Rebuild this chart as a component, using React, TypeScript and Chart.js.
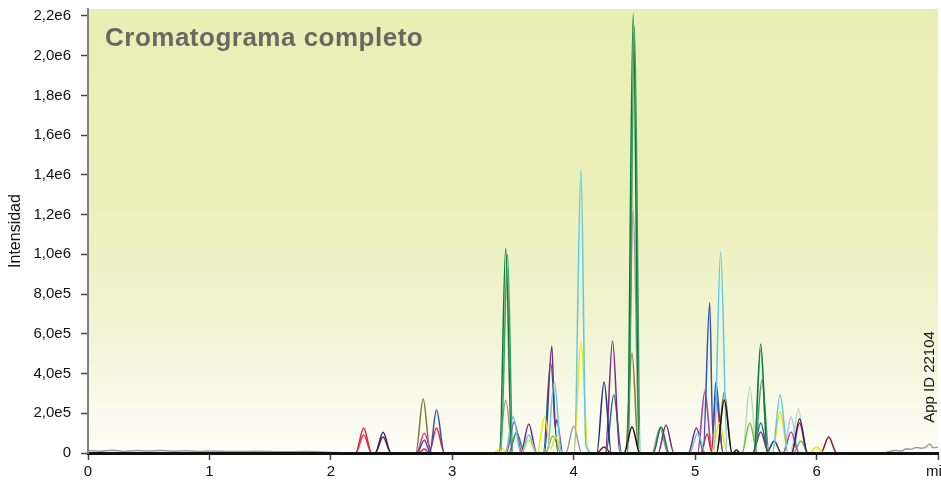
import React, { useEffect, useRef } from 'react';
import { Chart, registerables } from 'chart.js';

Chart.register(...registerables);

const FONT = "'Liberation Sans', Arial, Helvetica, sans-serif";
const TITLE = 'Cromatograma completo';
const Y_TITLE = 'Intensidad';
const WATERMARK = 'App ID 22104';

const X_MIN = 0;
const X_MAX = 7;
const Y_MIN = 0;
const Y_MAX = 2235000;
const X_TICKS = [0, 1, 2, 3, 4, 5, 6, 7];
const X_TICK_LABELS = ['0', '1', '2', '3', '4', '5', '6', 'min'];
const Y_TICKS = [0, 200000, 400000, 600000, 800000, 1000000, 1200000, 1400000, 1600000, 1800000, 2000000, 2200000];
const Y_TICK_LABELS = ['0', '2,0e5', '4,0e5', '6,0e5', '8,0e5', '1,0e6', '1,2e6', '1,4e6', '1,6e6', '1,8e6', '2,0e6', '2,2e6'];

type Pt = [number, number];

const darkGreen: Pt[] = [[0, 0], [3.39, 0], [3.44, 1030000], [3.49, 0], [4.44, 0], [4.49, 2210000], [4.54, 0], [4.655, 0], [4.72, 131000], [4.785, 0], [5.485, 0], [5.54, 549000], [5.595, 0], [7, 0]];
const seaGreen: Pt[] = [[0, 0], [3.40, 0], [3.455, 1000000], [3.50, 0], [4.45, 0], [4.50, 2150000], [4.55, 0], [5.49, 0], [5.55, 368000], [5.61, 0], [7, 0]];
const midGreen: Pt[] = [[0, 0], [3.465, 0], [3.53, 105000], [3.595, 0], [7, 0]];
const blackLine: Pt[] = [[0, 0], [4.415, 0], [4.48, 131000], [4.545, 0], [5.175, 0], [5.24, 267000], [5.305, 0], [5.31, 0], [5.34, 15000], [5.37, 0], [7, 0]];
const cyan: Pt[] = [[0, 0], [3.435, 0], [3.50, 181000], [3.565, 0], [3.57, 0], [3.63, 90000], [3.695, 0], [3.78, 0], [3.84, 358000], [3.90, 0], [4.005, 0], [4.06, 1426000], [4.10, 40000], [4.16, 0], [4.955, 0], [5.02, 100000], [5.085, 0], [5.155, 0], [5.21, 1010000], [5.265, 0], [5.635, 0], [5.70, 292000], [5.765, 0], [7, 0]];
const yellow: Pt[] = [[0, 0], [3.34, 0], [3.40, 25000], [3.46, 0], [3.57, 0], [3.63, 65000], [3.695, 0], [3.70, 0], [3.76, 181000], [3.81, 20000], [3.85, 80000], [3.91, 0], [4.0, 0], [4.06, 559000], [4.12, 0], [5.135, 0], [5.20, 151000], [5.265, 0], [5.635, 0], [5.70, 207000], [5.765, 0], [5.94, 0], [6.00, 30000], [6.06, 0], [7, 0]];
const purple: Pt[] = [[0, 0], [3.565, 0], [3.63, 146000], [3.695, 0], [3.76, 0], [3.82, 539000], [3.845, 130000], [3.86, 166000], [3.91, 0], [4.26, 0], [4.32, 564000], [4.38, 0], [4.695, 0], [4.76, 141000], [4.825, 0], [4.945, 0], [5.01, 126000], [5.075, 0], [5.475, 0], [5.54, 106000], [5.605, 0], [7, 0]];
const navy: Pt[] = [[0, 0], [2.365, 0], [2.43, 105000], [2.495, 0], [4.19, 0], [4.25, 358000], [4.31, 0], [5.59, 0], [5.65, 60000], [5.71, 0], [5.795, 0], [5.86, 171000], [5.925, 0], [7, 0]];
const teal: Pt[] = [[0, 0], [3.75, 0], [3.81, 453000], [3.87, 0], [4.265, 0], [4.33, 292000], [4.395, 0], [5.475, 0], [5.54, 151000], [5.605, 0], [7, 0]];
const blue: Pt[] = [[0, 0], [2.71, 0], [2.77, 65000], [2.815, 8000], [2.87, 216000], [2.935, 0], [5.065, 0], [5.12, 756000], [5.145, 100000], [5.17, 358000], [5.23, 0], [7, 0]];
const red: Pt[] = [[0, 0], [2.205, 0], [2.27, 126000], [2.335, 0], [2.72, 0], [2.77, 20000], [2.81, 2000], [2.87, 126000], [2.935, 0], [5.045, 0], [5.10, 96000], [5.135, 5000], [5.17, 287000], [5.23, 0], [5.795, 0], [5.86, 151000], [5.925, 0], [7, 0]];
const hotPink: Pt[] = [[0, 0], [2.205, 0], [2.27, 90000], [2.335, 0], [2.705, 0], [2.77, 100000], [2.835, 0], [7, 0]];
const mauve: Pt[] = [[0, 0], [3.445, 0], [3.51, 156000], [3.575, 0], [5.02, 0], [5.08, 307000], [5.14, 0], [5.725, 0], [5.79, 106000], [5.855, 0], [7, 0]];
const darkRed: Pt[] = [[0, 0], [2.365, 0], [2.43, 80000], [2.495, 0], [4.19, 0], [4.25, 30000], [4.31, 0], [6.035, 0], [6.10, 80000], [6.165, 0], [7, 0]];
const olive: Pt[] = [[0, 0], [2.70, 0], [2.76, 272000], [2.82, 0], [4.425, 0], [4.48, 504000], [4.535, 0], [5.18, 0], [5.24, 307000], [5.30, 0], [7, 0]];
const lime: Pt[] = [[0, 0], [3.765, 0], [3.83, 85000], [3.895, 0], [5.385, 0], [5.45, 151000], [5.515, 0], [5.81, 0], [5.87, 60000], [5.93, 0], [7, 0]];
const paleGreen: Pt[] = [[0, 0], [5.39, 0], [5.45, 332000], [5.51, 0], [5.785, 0], [5.85, 222000], [5.915, 0], [7, 0]];
const paleBlue: Pt[] = [[0, 0], [5.02, 0], [5.08, 320000], [5.14, 0], [5.725, 0], [5.79, 181000], [5.855, 0], [7, 0]];
const gray: Pt[] = [[0, 12000], [0.1, 9000], [0.2, 14000], [0.3, 8000], [0.4, 12000], [0.5, 10000], [0.6, 13000], [0.7, 9000], [0.8, 11000], [0.9, 8000], [1.0, 10000], [1.2, 7000], [1.4, 9000], [1.6, 6000], [1.8, 7000], [2.0, 3000], [2.2, 0], [3.38, 0], [3.44, 267000], [3.50, 0], [3.935, 0], [4.00, 136000], [4.065, 0], [4.44, 0], [4.49, 1220000], [4.54, 0], [4.645, 0], [4.71, 126000], [4.775, 0], [5.485, 0], [5.54, 519000], [5.595, 0], [6.55, 0], [6.6, 8000], [6.65, 12000], [6.7, 10000], [6.74, 22000], [6.78, 18000], [6.82, 28000], [6.86, 24000], [6.9, 30000], [6.93, 45000], [6.96, 26000], [7, 30000]];

const SERIES: { data: Pt[]; color: string }[] = [
  { data: darkGreen, color: '#0b7b3c' },
  { data: blackLine, color: '#111111' },
  { data: seaGreen, color: '#3f9e62' },
  { data: cyan, color: '#5ec9e3' },
  { data: yellow, color: '#f2e200' },
  { data: purple, color: '#7a2b7d' },
  { data: navy, color: '#25297a' },
  { data: teal, color: '#1b6f86' },
  { data: blue, color: '#3552ae' },
  { data: red, color: '#e8222b' },
  { data: hotPink, color: '#ee2b8f' },
  { data: mauve, color: '#b0439a' },
  { data: darkRed, color: '#8a1b2c' },
  { data: olive, color: '#7e7b2a' },
  { data: midGreen, color: '#2e8b57' },
  { data: lime, color: '#72bf45' },
  { data: gray, color: '#9b9b9b' },
  { data: paleBlue, color: '#a6c7ea' },
  { data: paleGreen, color: '#b9dbbd' },
];

const decorPlugin = {
  id: 'decor',
  beforeDraw(chart: any) {
    const { ctx, chartArea } = chart;
    const { left, top, right, bottom } = chartArea;
    const g = ctx.createLinearGradient(0, top, 0, bottom);
    g.addColorStop(0, '#e9efb4');
    g.addColorStop(0.45, '#ebf0bb');
    g.addColorStop(0.75, '#f2f5d6');
    g.addColorStop(1, '#fefef9');
    ctx.save();
    ctx.fillStyle = g;
    ctx.fillRect(left + 1, top, right - left - 1, bottom - top);
    ctx.font = `bold 26px ${FONT}`;
    (ctx as any).letterSpacing = '0.5px';
    ctx.fillStyle = '#6b6762';
    ctx.textAlign = 'left';
    ctx.textBaseline = 'alphabetic';
    ctx.fillText(TITLE, 105, 46);
    ctx.restore();
  },
  afterDraw(chart: any) {
    const { ctx } = chart;
    ctx.save();
    ctx.translate(930, 377);
    ctx.rotate(-Math.PI / 2);
    ctx.font = `15px ${FONT}`;
    ctx.fillStyle = '#111111';
    ctx.textAlign = 'center';
    ctx.textBaseline = 'middle';
    ctx.fillText(WATERMARK, 0, 0);
    ctx.restore();
  },
};

export default function App() {
  const ref = useRef<HTMLCanvasElement | null>(null);
  useEffect(() => {
    if (!ref.current) return;
    const chart = new Chart(ref.current, {
      type: 'line',
      data: {
        datasets: SERIES.map((s) => ({
          data: s.data as any,
          borderColor: s.color,
          backgroundColor: s.color,
          borderWidth: 1.5,
          pointRadius: 0,
          fill: false,
          cubicInterpolationMode: 'monotone' as const,
        })),
      },
      options: {
        responsive: false,
        animation: false,
        devicePixelRatio: 1,
        layout: { padding: { top: 9, right: 20, left: 0, bottom: 0 } },
        plugins: { legend: { display: false }, tooltip: { enabled: false }, title: { display: false } },
        scales: {
          x: {
            type: 'linear',
            min: X_MIN,
            max: X_MAX,
            afterBuildTicks: (axis: any) => {
              axis.ticks = X_TICKS.map((v) => ({ value: v }));
            },
            afterFit: (scale: any) => {
              scale.height = 31;
            },
            ticks: {
              autoSkip: false,
              maxRotation: 0,
              padding: 3,
              color: '#111111',
              font: { family: FONT, size: 15 },
              callback: (_v: any, i: number) => X_TICK_LABELS[i],
            },
            grid: { drawOnChartArea: false, drawTicks: true, tickLength: 7, color: '#444444', tickWidth: 1.5 },
            border: { display: true, color: '#111111', width: 3, z: 1 },
          },
          y: {
            type: 'linear',
            min: Y_MIN,
            max: Y_MAX,
            afterBuildTicks: (axis: any) => {
              axis.ticks = Y_TICKS.map((v) => ({ value: v }));
            },
            afterFit: (scale: any) => {
              scale.width = 88;
              scale.paddingTop = 0;
              scale.paddingBottom = 0;
            },
            ticks: {
              autoSkip: false,
              padding: 10,
              color: '#111111',
              font: { family: FONT, size: 15 },
              callback: (_v: any, i: number) => Y_TICK_LABELS[i],
            },
            title: {
              display: true,
              text: Y_TITLE,
              color: '#111111',
              font: { family: FONT, size: 16 },
              padding: { top: 6, bottom: 0 },
            },
            grid: { drawOnChartArea: false, drawTicks: true, tickLength: 7, color: '#444444', tickWidth: 1.5 },
            border: { display: true, color: '#7f7f7f', width: 2, z: 1 },
          },
        },
      },
      plugins: [decorPlugin],
    });
    return () => chart.destroy();
  }, []);

  return (
    <div style={{ position: 'fixed', left: 0, top: 0, width: 941, height: 484, overflow: 'hidden', background: '#ffffff' }}>
      <canvas ref={ref} width={958} height={484} style={{ display: 'block', width: 958, height: 484 }} />
    </div>
  );
}
